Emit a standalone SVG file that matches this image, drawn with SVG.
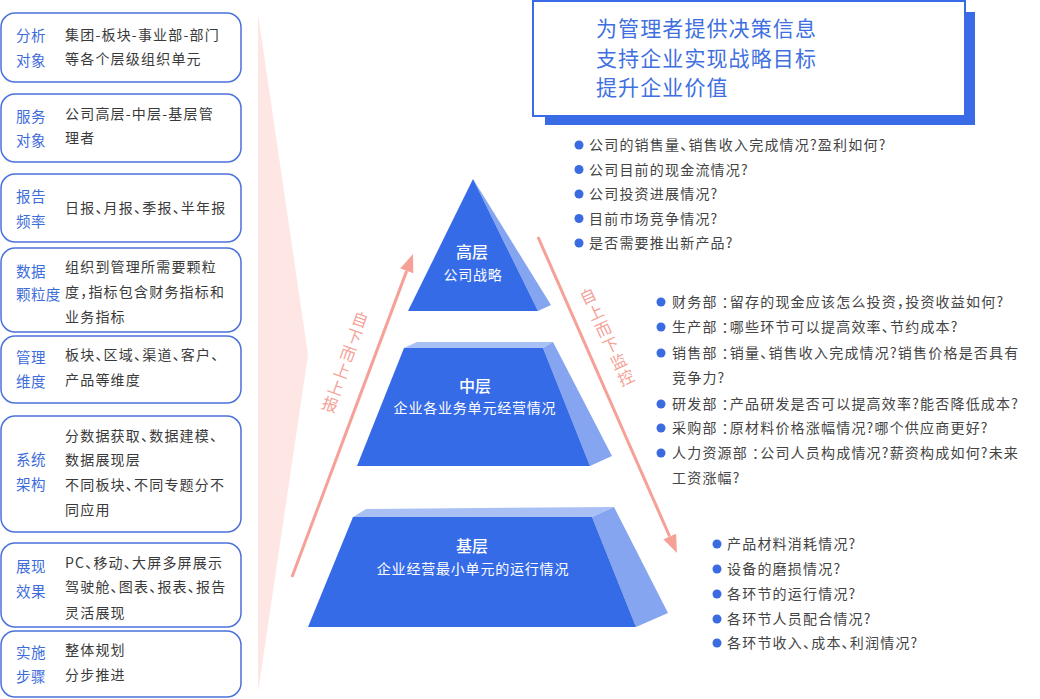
<svg xmlns="http://www.w3.org/2000/svg" width="1040" height="699" viewBox="0 0 1040 699">
<style>
.box{fill:#fff;stroke:#4A72D8;stroke-width:1.5}
.lbl{font-family:"Noto Sans CJK SC","Noto Sans",sans-serif;font-size:14.5px;letter-spacing:0.4px;fill:#3D6CDB}
.txt{font-family:"Noto Sans CJK SC","Noto Sans",sans-serif;font-size:14px;letter-spacing:1.2px;fill:#3a3a3a}
.li{font-family:"Noto Sans CJK SC","Noto Sans",sans-serif;font-size:14px;letter-spacing:1.2px;fill:#444}
.h{letter-spacing:-5.8px}
.c{letter-spacing:-5.8px}
.dot{fill:#3A6BE0}
.front{fill:#366BE8}
.side{fill:#86A5F0}
.topf{fill:#A9C0F5}
.ttl{font-family:"Noto Sans CJK SC","Noto Sans",sans-serif;font-size:16px;font-weight:500;fill:#fff;text-anchor:middle}
.sub{font-family:"Noto Sans CJK SC","Noto Sans",sans-serif;font-size:14px;letter-spacing:0.8px;fill:#fff;text-anchor:middle}
.goal{font-family:"Noto Sans CJK SC","Noto Sans",sans-serif;font-size:21px;letter-spacing:1.1px;fill:#4070E0}
.arr{stroke:#F5A197;stroke-width:3;fill:none}
.al{font-family:"Noto Sans CJK SC","Noto Sans",sans-serif;font-size:16px;fill:#F5A197;text-anchor:middle}
</style>
<defs>
<marker id="ah" viewBox="0 0 18 14" refX="0" refY="7" markerWidth="18" markerHeight="14" markerUnits="userSpaceOnUse" orient="auto">
<path d="M0,0 L18,7 L0,14 z" fill="#F5A197"/>
</marker>
</defs>
<rect width="1040" height="699" fill="#fff"/>
<polygon id="band" points="258,14 308,355 258,692" fill="#FDE6E3"/>

<g id="box-analysis">
<rect class="box" x="1" y="13" width="240" height="69" rx="14"/>
<text class="lbl" x="16" y="41">分析</text><text class="lbl" x="16" y="66">对象</text>
<text class="txt" x="65" y="40">集团-板块-事业部-部门</text>
<text class="txt" x="65" y="64">等各个层级组织单元</text>
</g>
<g id="box-service">
<rect class="box" x="1" y="94" width="240" height="68" rx="14"/>
<text class="lbl" x="16" y="122">服务</text><text class="lbl" x="16" y="146">对象</text>
<text class="txt" x="65" y="119">公司高层-中层-基层管</text>
<text class="txt" x="65" y="143">理者</text>
</g>
<g id="box-frequency">
<rect class="box" x="1" y="174" width="240" height="68" rx="14"/>
<text class="lbl" x="16" y="202">报告</text><text class="lbl" x="16" y="227">频率</text>
<text class="txt" x="65" y="213">日报<tspan class="h">、</tspan>月报<tspan class="h">、</tspan>季报<tspan class="h">、</tspan>半年报</text>
</g>
<g id="box-granularity">
<rect class="box" x="1" y="248" width="240" height="84" rx="14"/>
<text class="lbl" x="16" y="277">数据</text><text class="lbl" x="16" y="300">颗粒度</text>
<text class="txt" x="65" y="272">组织到管理所需要颗粒</text>
<text class="txt" x="65" y="297">度<tspan class="h">，</tspan>指标包含财务指标和</text>
<text class="txt" x="65" y="322">业务指标</text>
</g>
<g id="box-dimension">
<rect class="box" x="1" y="336" width="240" height="67" rx="14"/>
<text class="lbl" x="16" y="363">管理</text><text class="lbl" x="16" y="387">维度</text>
<text class="txt" x="65" y="360">板块<tspan class="h">、</tspan>区域<tspan class="h">、</tspan>渠道<tspan class="h">、</tspan>客户<tspan class="h">、</tspan></text>
<text class="txt" x="65" y="385">产品等维度</text>
</g>
<g id="box-architecture">
<rect class="box" x="1" y="416" width="240" height="116" rx="14"/>
<text class="lbl" x="16" y="465">系统</text><text class="lbl" x="16" y="490">架构</text>
<text class="txt" x="65" y="441">分数据获取<tspan class="h">、</tspan>数据建模<tspan class="h">、</tspan></text>
<text class="txt" x="65" y="465">数据展现层</text>
<text class="txt" x="65" y="490">不同板块<tspan class="h">、</tspan>不同专题分不</text>
<text class="txt" x="65" y="515">同应用</text>
</g>
<g id="box-display">
<rect class="box" x="1" y="543" width="240" height="84" rx="14"/>
<text class="lbl" x="16" y="572">展现</text><text class="lbl" x="16" y="597">效果</text>
<text class="txt" x="65" y="568">PC<tspan class="h">、</tspan>移动<tspan class="h">、</tspan>大屏多屏展示</text>
<text class="txt" x="65" y="592">驾驶舱<tspan class="h">、</tspan>图表<tspan class="h">、</tspan>报表<tspan class="h">、</tspan>报告</text>
<text class="txt" x="65" y="618">灵活展现</text>
</g>
<g id="box-steps">
<rect class="box" x="1" y="631" width="240" height="66" rx="14"/>
<text class="lbl" x="16" y="658">实施</text><text class="lbl" x="16" y="682">步骤</text>
<text class="txt" x="65" y="655">整体规划</text>
<text class="txt" x="65" y="680">分步推进</text>
</g>

<g id="goal">
<rect x="545" y="12" width="430" height="113" fill="#3A6BE6"/>
<rect x="533" y="1" width="432" height="115" fill="#fff" stroke="#3A6BE6" stroke-width="2"/>
<text class="goal" x="596" y="36">为管理者提供决策信息</text>
<text class="goal" x="596" y="66">支持企业实现战略目标</text>
<text class="goal" x="596" y="95">提升企业价值</text>
</g>

<g id="level-top">
<polygon class="side" points="473,179 551,305 538,311"/>
<polygon class="front" points="473,179 408,311 538,311"/>
<text class="ttl" x="472" y="258">高层</text>
<text class="sub" x="473" y="280">公司战略</text>
</g>
<g id="level-middle">
<polygon class="topf" points="404,348 417,342 553,342 543,348"/>
<polygon class="side" points="543,348 553,342 612,456 590,466"/>
<polygon class="front" points="404,348 543,348 590,466 357,466"/>
<text class="ttl" x="475" y="392">中层</text>
<text class="sub" x="475" y="413">企业各业务单元经营情况</text>
</g>
<g id="level-base">
<polygon class="topf" points="353,517 366,509 614,507 592,517"/>
<polygon class="side" points="592,517 614,507 668,613 636,627"/>
<polygon class="front" points="353,517 592,517 636,627 308,627"/>
<text class="ttl" x="472" y="552">基层</text>
<text class="sub" x="473" y="574">企业经营最小单元的运行情况</text>
</g>

<g id="connectors">
<line class="arr" x1="292" y1="577" x2="406.7" y2="270.9" marker-end="url(#ah)"/>
<line class="arr" x1="538" y1="237" x2="669.7" y2="536.5" marker-end="url(#ah)"/>
<g transform="translate(345,362) rotate(19.5)">
<text class="al"><tspan x="0" y="-39">自</tspan><tspan x="0" y="-21">下</tspan><tspan x="0" y="-3">而</tspan><tspan x="0" y="15">上</tspan><tspan x="0" y="33">上</tspan><tspan x="0" y="51">报</tspan></text>
</g>
<g transform="translate(607,337) rotate(-25)">
<text class="al"><tspan x="0" y="-39">自</tspan><tspan x="0" y="-21">上</tspan><tspan x="0" y="-3">而</tspan><tspan x="0" y="15">下</tspan><tspan x="0" y="33">监</tspan><tspan x="0" y="51">控</tspan></text>
</g>
</g>

<g id="list-top">
<circle class="dot" cx="579" cy="145" r="4.5"/><text class="li" x="589" y="150">公司的销售量<tspan class="h">、</tspan>销售收入完成情况?盈利如何?</text>
<circle class="dot" cx="579" cy="169.5" r="4.5"/><text class="li" x="589" y="174.5">公司目前的现金流情况?</text>
<circle class="dot" cx="579" cy="194" r="4.5"/><text class="li" x="589" y="199">公司投资进展情况?</text>
<circle class="dot" cx="579" cy="218.5" r="4.5"/><text class="li" x="589" y="223.5">目前市场竞争情况?</text>
<circle class="dot" cx="579" cy="243" r="4.5"/><text class="li" x="589" y="248">是否需要推出新产品?</text>
</g>
<g id="list-middle">
<circle class="dot" cx="661" cy="302" r="4.5"/><text class="li" x="672" y="307">财务部<tspan class="c" dx="4">：</tspan>留存的现金应该怎么投资<tspan class="h">，</tspan>投资收益如何?</text>
<circle class="dot" cx="661" cy="327" r="4.5"/><text class="li" x="672" y="332">生产部<tspan class="c" dx="4">：</tspan>哪些环节可以提高效率<tspan class="h">、</tspan>节约成本?</text>
<circle class="dot" cx="661" cy="353" r="4.5"/><text class="li" x="672" y="358">销售部<tspan class="c" dx="4">：</tspan>销量<tspan class="h">、</tspan>销售收入完成情况?销售价格是否具有</text>
<text class="li" x="672" y="383">竞争力?</text>
<circle class="dot" cx="661" cy="404" r="4.5"/><text class="li" x="672" y="409">研发部<tspan class="c" dx="4">：</tspan>产品研发是否可以提高效率?能否降低成本?</text>
<circle class="dot" cx="661" cy="428" r="4.5"/><text class="li" x="672" y="433">采购部<tspan class="c" dx="4">：</tspan>原材料价格涨幅情况?哪个供应商更好?</text>
<circle class="dot" cx="661" cy="453" r="4.5"/><text class="li" x="672" y="458">人力资源部<tspan class="c" dx="4">：</tspan>公司人员构成情况?薪资构成如何?未来</text>
<text class="li" x="672" y="483">工资涨幅?</text>
</g>
<g id="list-base">
<circle class="dot" cx="717" cy="544" r="4.5"/><text class="li" x="727" y="549">产品材料消耗情况?</text>
<circle class="dot" cx="717" cy="569" r="4.5"/><text class="li" x="727" y="574">设备的磨损情况?</text>
<circle class="dot" cx="717" cy="594" r="4.5"/><text class="li" x="727" y="599">各环节的运行情况?</text>
<circle class="dot" cx="717" cy="619" r="4.5"/><text class="li" x="727" y="624">各环节人员配合情况?</text>
<circle class="dot" cx="717" cy="643" r="4.5"/><text class="li" x="727" y="648">各环节收入<tspan class="h">、</tspan>成本<tspan class="h">、</tspan>利润情况?</text>
</g>
</svg>
